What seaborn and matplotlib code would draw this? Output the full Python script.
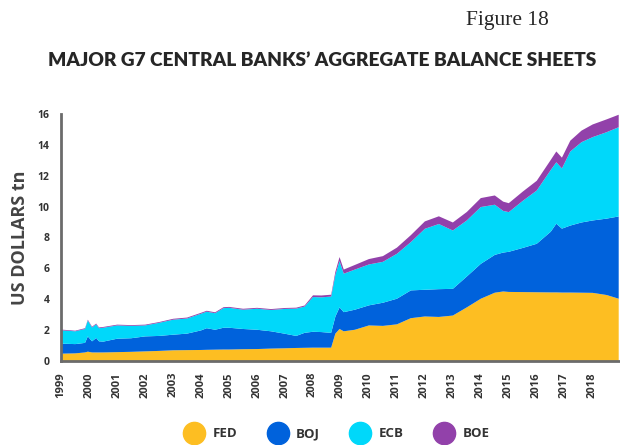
import matplotlib
matplotlib.use("Agg")
import matplotlib.pyplot as plt
from matplotlib.lines import Line2D
import seaborn as sns

# --- DATA (US$ tn, decimal years) ---
DATES = [1999.0, 1999.5, 1999.85, 1999.95, 2000.1, 2000.25, 2000.35, 2000.5,
         2001.0, 2001.5, 2002.0, 2002.5, 2003.0, 2003.5, 2004.0, 2004.2,
         2004.5, 2004.8, 2005.0, 2005.5, 2006.0, 2006.5, 2007.0, 2007.4,
         2007.7, 2008.0, 2008.3, 2008.65, 2008.8, 2008.95, 2009.1, 2009.5,
         2010.0, 2010.5, 2011.0, 2011.5, 2012.0, 2012.5, 2013.0, 2013.5,
         2014.0, 2014.5, 2014.8, 2015.0, 2015.5, 2016.0, 2016.5, 2016.7,
         2016.9, 2017.2, 2017.6, 2018.0, 2018.5, 2018.93]

FED = [0.50, 0.52, 0.58, 0.63, 0.58, 0.58, 0.58, 0.58,
       0.60, 0.62, 0.65, 0.68, 0.72, 0.73, 0.74, 0.75,
       0.76, 0.77, 0.77, 0.79, 0.80, 0.83, 0.85, 0.87,
       0.88, 0.89, 0.89, 0.89, 1.80, 2.10, 1.95, 2.05,
       2.33, 2.30, 2.40, 2.80, 2.91, 2.88, 2.97, 3.50,
       4.06, 4.45, 4.53, 4.50, 4.49, 4.48, 4.47, 4.47,
       4.46, 4.46, 4.45, 4.44, 4.30, 4.06]

BOJ = [0.65, 0.60, 0.62, 0.99, 0.72, 0.94, 0.72, 0.70,
       0.87, 0.88, 0.97, 0.97, 1.01, 1.07, 1.27, 1.40,
       1.29, 1.41, 1.41, 1.31, 1.25, 1.12, 0.94, 0.78,
       0.97, 1.03, 1.01, 0.96, 1.10, 1.40, 1.24, 1.30,
       1.30, 1.50, 1.66, 1.80, 1.73, 1.80, 1.73, 2.00,
       2.26, 2.45, 2.52, 2.60, 2.86, 3.14, 3.93, 4.45,
       4.14, 4.34, 4.55, 4.69, 4.95, 5.33]

ECB = [0.86, 0.83, 0.90, 1.03, 0.90, 0.88, 0.85, 0.90,
       0.86, 0.80, 0.71, 0.85, 0.97, 0.98, 1.08, 1.07,
       1.07, 1.27, 1.29, 1.25, 1.36, 1.38, 1.61, 1.77,
       1.70, 2.25, 2.25, 2.35, 2.70, 3.00, 2.49, 2.60,
       2.65, 2.65, 2.91, 3.13, 3.95, 4.22, 3.78, 3.63,
       3.68, 3.25, 2.70, 2.57, 3.05, 3.45, 4.00, 3.98,
       3.90, 4.80, 5.20, 5.40, 5.60, 5.78]

BOE = [0.05, 0.04, 0.05, 0.05, 0.05, 0.05, 0.05, 0.05,
       0.05, 0.05, 0.05, 0.05, 0.06, 0.06, 0.06, 0.06,
       0.06, 0.06, 0.06, 0.06, 0.06, 0.06, 0.06, 0.06,
       0.07, 0.11, 0.12, 0.12, 0.20, 0.26, 0.27, 0.30,
       0.35, 0.37, 0.40, 0.45, 0.48, 0.50, 0.52, 0.55,
       0.58, 0.60, 0.60, 0.58, 0.60, 0.63, 0.65, 0.70,
       0.70, 0.70, 0.75, 0.82, 0.83, 0.81]

BANKS = ["FED", "BOJ", "ECB", "BOE"]
COLORS = ["#FDBE22", "#0062DC", "#00D8FA", "#9241AA"]
YEARS = list(range(1999, 2019))

sns.set_style("white")
plt.rcParams["font.family"] = ["Open Sans", "DejaVu Sans"]

fig = plt.figure(figsize=(6.2, 4.45), dpi=100)
ax = fig.add_axes([0.098, 0.189, 0.90, 0.555])

ax.stackplot(DATES, FED, BOJ, ECB, BOE, colors=COLORS, linewidth=0)

ax.set_xlim(1999, 2018.95)
ax.set_ylim(0, 16)
ax.set_yticks(range(0, 17, 2))
ax.set_xticks(YEARS)
ax.set_xticklabels([str(y) for y in YEARS], rotation=90)

for side in ["top", "right"]:
    ax.spines[side].set_visible(False)
for side in ["left", "bottom"]:
    ax.spines[side].set_color("#6b6b6b")
    ax.spines[side].set_linewidth(2)
ax.tick_params(axis="both", direction="out", length=6, width=2, color="#6b6b6b",
               labelcolor="#333333", pad=2)
ax.tick_params(axis="x", labelsize=8)
ax.tick_params(axis="y", labelsize=7.5)
for lbl in ax.get_xticklabels() + ax.get_yticklabels():
    lbl.set_fontweight("bold")

ax.set_ylabel("US DOLLARS tn", fontsize=13, fontweight="bold", color="#444444",
              labelpad=6)

fig.text(0.818, 0.955, "Figure 18", ha="center", va="center", fontsize=15.5,
         family=["Liberation Serif", "DejaVu Serif"])
fig.text(0.519, 0.865, "MAJOR G7 CENTRAL BANKS\u2019 AGGREGATE BALANCE SHEETS",
         ha="center", va="center", fontsize=13.8, fontweight="heavy",
         family=["Lato", "DejaVu Sans"])

handles = [Line2D([], [], marker="o", linestyle="", markersize=16,
                  markerfacecolor=c, markeredgecolor=c) for c in COLORS]
leg = fig.legend(handles, BANKS, loc="center", bbox_to_anchor=(0.541, 0.025),
                 ncol=4, frameon=False, columnspacing=2.05, handletextpad=0.4,
                 prop={"weight": "bold", "size": 9.5})
for t in leg.get_texts():
    t.set_color("#333333")

fig.savefig("out.png", dpi=100)
